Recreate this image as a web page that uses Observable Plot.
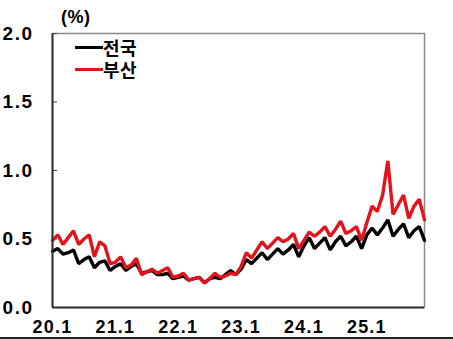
<!DOCTYPE html>
<html>
<head>
<meta charset="utf-8">
<script src="https://cdn.jsdelivr.net/npm/d3@7"></script>
<script src="https://cdn.jsdelivr.net/npm/@observablehq/plot@0.6"></script>
<style>
  body { margin: 0; background: #fff; }
  #wrap { position: relative; width: 453px; height: 339px; overflow: hidden; font-family: "Liberation Sans", Arial, sans-serif; }
  .lbl { position: absolute; font-weight: bold; color: #000; white-space: nowrap; }
  .sw { position: absolute; height: 3px; width: 28px; }
  .kr { font-family: "Noto Sans CJK KR", sans-serif; font-size: 18px; line-height: 22px; letter-spacing: 0.5px; white-space: pre; }
  #bottomline { position: absolute; left: 0; top: 337px; width: 453px; height: 2px; background: #222; }
  #chart g[aria-label="y-axis tick label"] text { letter-spacing: 1.5px; }
  #chart g[aria-label="x-axis tick label"] text { letter-spacing: 1.2px; }
</style>
</head>
<body>
<div id="wrap">
  <div id="chart"></div>
  <div class="lbl" style="left:61px; top:7px; font-size:18px; letter-spacing:0.5px;">(%)</div>
  <div class="sw" style="left:75px; top:46px; background:#000;"></div>
  <div class="sw" style="left:75px; top:68px; background:#e3121b;"></div>
  <div id="legendText" class="lbl kr" style="left:103px; top:36px;"></div>
  <div id="bottomline"></div>
</div>
<script>
// Monthly rate (%), Jan 2020 – Dec 2025
const nationwide = [
  0.41, 0.43, 0.39, 0.40, 0.42, 0.32, 0.35, 0.37, 0.29, 0.33, 0.34, 0.27,
  0.30, 0.32, 0.27, 0.30, 0.32, 0.25, 0.26, 0.27, 0.24, 0.24, 0.25, 0.21,
  0.22, 0.23, 0.20, 0.21, 0.22, 0.18, 0.21, 0.22, 0.21, 0.24, 0.27, 0.24,
  0.28, 0.35, 0.32, 0.36, 0.40, 0.35, 0.39, 0.43, 0.39, 0.42, 0.46, 0.37,
  0.45, 0.51, 0.43, 0.47, 0.51, 0.42, 0.48, 0.52, 0.45, 0.48, 0.52, 0.43,
  0.53, 0.58, 0.53, 0.58, 0.64, 0.52, 0.57, 0.61, 0.51, 0.56, 0.59, 0.49
];
const busan = [
  0.49, 0.53, 0.46, 0.51, 0.56, 0.46, 0.50, 0.53, 0.37, 0.48, 0.45, 0.32,
  0.33, 0.37, 0.29, 0.31, 0.36, 0.24, 0.26, 0.28, 0.25, 0.27, 0.29, 0.22,
  0.23, 0.25, 0.20, 0.21, 0.22, 0.18, 0.21, 0.25, 0.22, 0.23, 0.25, 0.24,
  0.30, 0.40, 0.36, 0.42, 0.48, 0.43, 0.47, 0.51, 0.48, 0.50, 0.54, 0.43,
  0.49, 0.55, 0.52, 0.55, 0.59, 0.52, 0.57, 0.63, 0.54, 0.56, 0.59, 0.49,
  0.62, 0.74, 0.70, 0.82, 1.07, 0.68, 0.75, 0.82, 0.65, 0.74, 0.79, 0.64
];
const seriesNames = ["전국", "부산"];
const xTickLabels = ["20.1", "21.1", "22.1", "23.1", "24.1", "25.1"];
const xTickMonths = [0, 12, 24, 36, 48, 60];
const yTicks = [0, 0.5, 1.0, 1.5, 2.0];

document.getElementById("legendText").textContent = seriesNames.join("\n");

const rows = [];
nationwide.forEach((v, i) => rows.push({series: seriesNames[0], m: i, v}));
busan.forEach((v, i) => rows.push({series: seriesNames[1], m: i, v}));

const W = 453, H = 339, mL = 52, mR = 29, mT = 33, mB = 32;

const chart = Plot.plot({
  width: W, height: H,
  marginLeft: mL, marginRight: mR, marginTop: mT, marginBottom: mB,
  style: {fontFamily: "'Liberation Sans', Arial, sans-serif", background: "#fff"},
  x: {domain: [0, nationwide.length - 1]},
  y: {domain: [0, 2]},
  color: {domain: seriesNames, range: ["#000000", "#e3121b"]},
  marks: [
    Plot.frame({stroke: "#8a8a8a", strokeWidth: 1.5}),
    Plot.axisY(yTicks, {tickSize: 0, tickPadding: 19, tickFormat: d => d.toFixed(1),
      fontSize: 19, fontWeight: "bold", fill: "#000", label: null}),
    Plot.ruleY(yTicks, {y: d => d, insetRight: W - mL - mR - 5, stroke: "#444", strokeWidth: 1}),
    Plot.axisX(xTickMonths, {tickSize: 0, tickPadding: 13, tickFormat: (d, i) => xTickLabels[i],
      fontSize: 18, fontWeight: "bold", fill: "#000", label: null}),
    Plot.lineY(rows.filter(d => d.series === seriesNames[0]), {x: "m", y: "v", stroke: "series", strokeWidth: 3.4, strokeLinejoin: "miter"}),
    Plot.lineY(rows.filter(d => d.series === seriesNames[1]), {x: "m", y: "v", stroke: "series", strokeWidth: 3.4, strokeLinejoin: "miter"}),
    Plot.ruleX([0], {stroke: "#333", strokeWidth: 2}),
    Plot.ruleY([0], {stroke: "#333", strokeWidth: 2})
  ]
});
document.getElementById("chart").appendChild(chart);
</script>
</body>
</html>
